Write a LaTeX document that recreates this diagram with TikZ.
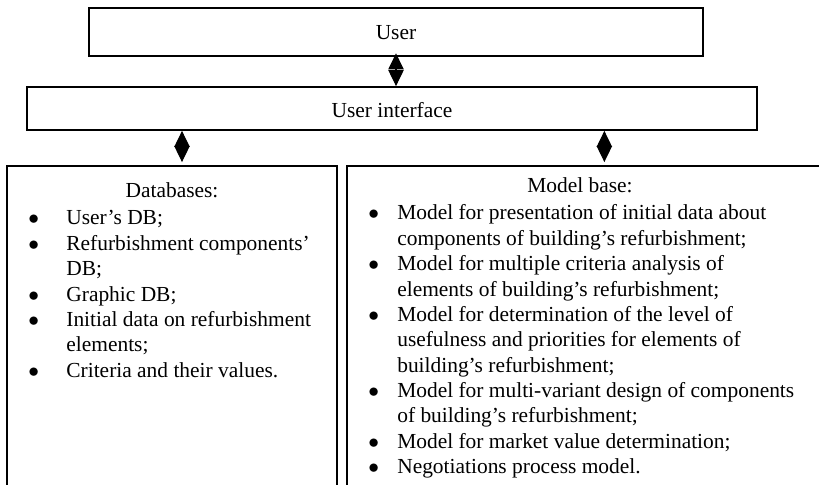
\documentclass[tikz,border=0pt]{standalone}
\usepackage{fontspec}
\setmainfont{Liberation Serif}
\usetikzlibrary{arrows.meta, positioning, fit}
\newcommand\stip{$\bullet$}
\tikzset{
  every picture/.style={>={Triangle[length=9pt, width=8.6pt]}},
  blok/.style={draw, line width=1pt, inner sep=0pt, font=\fontsize{12}{14.2}\selectfont},
  kop/.style={anchor=base, inner sep=0pt, font=\fontsize{12}{14.2}\selectfont},
  lijst/.style={anchor=base west, inner sep=0pt, font=\fontsize{12}{14.2}\selectfont},
  pijl/.style={<->, line width=0.6pt},
}

\begin{document}
\begin{tikzpicture}[x=0.56pt, y=-0.56pt]
  \useasboundingbox (0,0) rectangle (819,485);
  \clip (0,0) rectangle (819,485);
  % top boxes
  \node[blok, fit={(89,8) (703,56)}, label={[kop, anchor=center, yshift=-0.3pt]center:User}] (user) {};
  \node[blok, fit={(27,87) (757,130)}, label={[kop, anchor=center, yshift=-0.6pt]center:User interface}] (ui) {};
  % lower boxes, open at the bottom
  \node[blok, fit={(7,166) (337,530)}] (db) {};
  \node[blok, fit={(347,166) (826,530)}] (mb) {};
  \node[kop] (dbkop) at (172,198) {Databases:};
  \node[kop] (mbkop) at (580,193) {Model base:};
  \node[lijst] (dblijst) at (28,225) {\begin{tabular}[t]{@{}p{21.3pt}@{}l@{}}
    \stip & User’s DB;\\
    \stip & Refurbishment components’\\
          & DB;\\
    \stip & Graphic DB;\\
    \stip & Initial data on refurbishment\\
          & elements;\\
    \stip & Criteria and their values.
  \end{tabular}};
  \node[lijst] (mblijst) at (368,220) {\begin{tabular}[t]{@{}p{16.2pt}@{}l@{}}
    \stip & Model for presentation of initial data about\\
          & components of building’s refurbishment;\\
    \stip & Model for multiple criteria analysis of\\
          & elements of building’s refurbishment;\\
    \stip & Model for determination of the level of\\
          & usefulness and priorities for elements of\\
          & building’s refurbishment;\\
    \stip & Model for multi-variant design of components\\
          & of building’s refurbishment;\\
    \stip & Model for market value determination;\\
    \stip & Negotiations process model.
  \end{tabular}};
  % connectors
  \coordinate (dbtop) at ([xshift=5.6pt]db.north);
  \coordinate (mbtop) at ([xshift=10pt]mb.north);
  \draw[pijl, shorten <=-2pt] (user.south) -- (user.south |- ui.north);
  \draw[pijl, shorten >=1.7pt] (dbtop |- ui.south) -- (dbtop);
  \draw[pijl, shorten >=1.7pt] (mbtop |- ui.south) -- (mbtop);
\end{tikzpicture}
\end{document}
